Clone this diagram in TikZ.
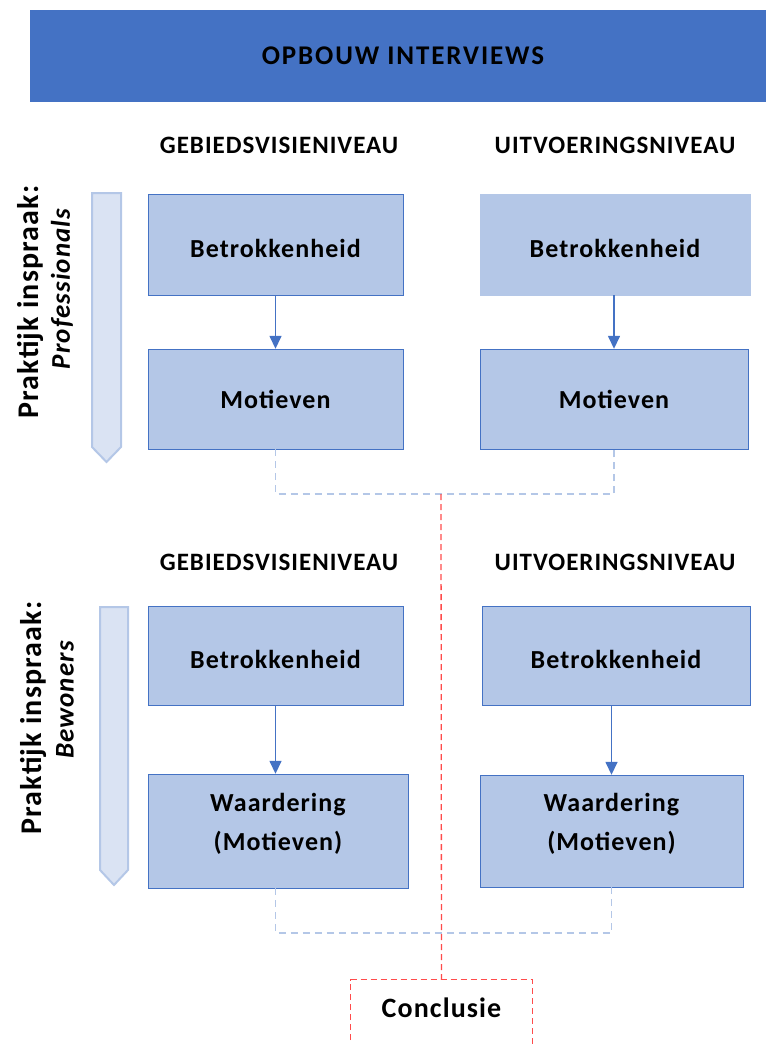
\documentclass[tikz,border=0pt]{standalone}
\usepackage{fontspec}
\setmainfont{Carlito}
\newfontfamily\titlefont[LetterSpace=7]{Carlito}
\newfontfamily\widefont[LetterSpace=4]{Carlito}
\usetikzlibrary{arrows.meta}

\definecolor{titleblue}{HTML}{4472C4}
\definecolor{boxblue}{HTML}{B4C7E7}
\definecolor{sidefill}{HTML}{DAE3F3}
\definecolor{dashred}{HTML}{FF4B4B}

\tikzset{
  levelbox/.style={draw=titleblue, fill=boxblue, inner sep=0pt, align=center,
    font=\widefont\bfseries\fontsize{26}{39}\selectfont},
  lowtext/.style={text height=26pt, text depth=0pt},
  hightext/.style={text depth=18pt},
  header/.style={font=\widefont\bfseries\fontsize{25}{30}\selectfont},
  sidelabel/.style={rotate=90, font=\widefont\bfseries\fontsize{30}{34}\selectfont},
  sidesub/.style={rotate=90, font=\widefont\bfseries\itshape\fontsize{27}{30}\selectfont},
  flow/.style={-{Triangle[length=13pt,width=12pt]}, titleblue, line width=1.5pt},
  merge/.style={boxblue, line width=1.2pt, dash pattern=on 7pt off 5pt},
  toconcl/.style={dashred, line width=1.3pt, dash pattern=on 6pt off 4pt},
  sidearrow/.style={fill=sidefill, draw=boxblue, line width=2pt}
}

\begin{document}
\begin{tikzpicture}[x=1pt, y=-1pt]
  \useasboundingbox (0,0) rectangle (766,1044);

  % Title bar
  \fill[titleblue] (30,10) rectangle (766,102);
  \node[font=\titlefont\bfseries\fontsize{27}{32}\selectfont] (title) at (403,56) {OPBOUW INTERVIEWS};

  % Professionals
  \node[header] (gv1) at (279,145) {GEBIEDSVISIENIVEAU};
  \node[header] (uv1) at (615,145) {UITVOERINGSNIVEAU};

  \node[levelbox, lowtext, minimum width=255pt, minimum height=101pt] (pb1) at (275.5,244.5) {Betrokkenheid};
  \node[levelbox, lowtext, draw=boxblue, minimum width=270pt, minimum height=101pt] (pb2) at (615,244.5) {Betrokkenheid};
  \node[levelbox, minimum width=255pt, minimum height=100pt] (pm1) at (275.5,399) {Motieven};
  \node[levelbox, minimum width=268pt, minimum height=100pt] (pm2) at (614,399) {Motieven};

  \draw[flow] (pb1.south) -- (pm1.north);
  \draw[flow] (pb2.south -| pm2.north) -- (pm2.north);

  \draw[sidearrow] (92,193) -- (121,193) -- (121,447) -- (106.5,462) -- (92,447) -- cycle;
  \node[sidelabel] (pl1) at (30,302) {Praktijk inspraak:};
  \node[sidesub] (ps1) at (62,289) {Professionals};

  % Bewoners
  \node[header] (gv2) at (279,562) {GEBIEDSVISIENIVEAU};
  \node[header] (uv2) at (615,562) {UITVOERINGSNIVEAU};

  \node[levelbox, lowtext, minimum width=255pt, minimum height=99pt] (bb1) at (275.5,655.5) {Betrokkenheid};
  \node[levelbox, lowtext, minimum width=268pt, minimum height=99pt] (bb2) at (616,655.5) {Betrokkenheid};
  \node[levelbox, hightext, minimum width=260pt, minimum height=114pt] (bw1) at (278,831) {Waardering\\(Motieven)};
  \node[levelbox, hightext, minimum width=263pt, minimum height=112pt] (bw2) at (611.5,831) {Waardering\\(Motieven)};

  \draw[flow] (bb1.south) -- (bb1.south |- bw1.north);
  \draw[flow] (bb2.south -| bw2.north) -- (bw2.north);

  \draw[sidearrow] (100,607) -- (128,607) -- (128,870) -- (114,885) -- (100,870) -- cycle;
  \node[sidelabel] (pl2) at (33,718) {Praktijk inspraak:};
  \node[sidesub] (ps2) at (65,700) {Bewoners};

  % Merging lines
  \coordinate (j1) at (441,494);
  \coordinate (j2) at (441,933);
  \draw[merge] (pm1.south) |- (j1) -| (pm2.south);
  \draw[merge] (bb1.south |- bw1.south) |- (j2) -| (bw2.south);

  % Conclusion
  \node[font=\widefont\bfseries\fontsize{28}{32}\selectfont, minimum width=181pt, minimum height=56pt] (concl) at (441.5,1008) {Conclusie};
  \draw[toconcl] (j1) -- (concl.north);
  \draw[toconcl] (concl.north west |- 0,1060) -- (concl.north west) -- (concl.north east) -- (concl.north east |- 0,1060);
\end{tikzpicture}
\end{document}
